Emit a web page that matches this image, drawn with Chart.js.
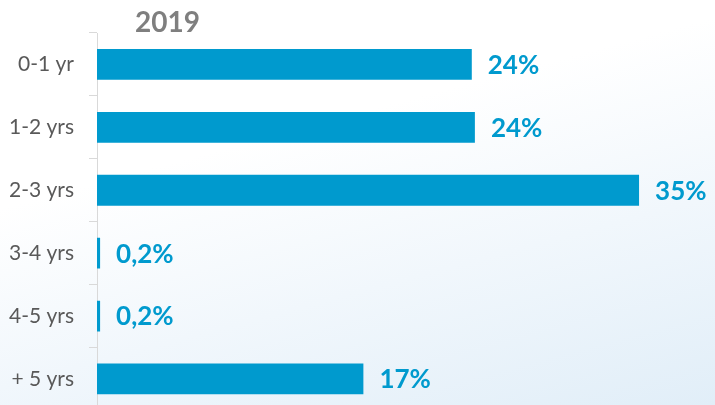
<!DOCTYPE html>
<html>
<head>
<meta charset="utf-8">
<script src="https://cdn.jsdelivr.net/npm/chart.js@4"></script>
<style>
  html, body {
    margin: 0;
    padding: 0;
    width: 715px;
    height: 405px;
    overflow: hidden;
    background: linear-gradient(165deg, #ffffff 35%, #f1f7fc 65%, #e1eef8 100%);
  }
  #wrap {
    position: relative;
    width: 715px;
    height: 438px;
  }
  #chart {
    display: block;
  }
  #title {
    position: absolute;
    left: 135px;
    top: 7px;
    font: bold 28px Lato, sans-serif;
    line-height: 28px;
    color: #7f7f7f;
  }
</style>
</head>
<body>
<div id="wrap">
  <canvas id="chart" width="715" height="438"></canvas>
  <div id="title">2019</div>
</div>
<script>
// Share of employees by seniority, 2019
const categories = ['0-1 yr', '1-2 yrs', '2-3 yrs', '3-4 yrs', '4-5 yrs', '+ 5 yrs'];
const shares = [24.2, 24.4, 35, 0.2, 0.2, 17.2];

const barColor = '#009ace';

function formatShare(v) {
  if (v < 1) return v.toFixed(1).replace('.', ',') + '%';
  return Math.round(v) + '%';
}

// Draw the value labels to the right of each bar
const valueLabels = {
  id: 'valueLabels',
  afterDatasetsDraw(chart) {
    const ctx = chart.ctx;
    const meta = chart.getDatasetMeta(0);
    ctx.save();
    ctx.font = 'bold 26px Lato, sans-serif';
    ctx.fillStyle = barColor;
    ctx.textAlign = 'left';
    ctx.textBaseline = 'middle';
    meta.data.forEach((bar, i) => {
      ctx.fillText(formatShare(shares[i]), bar.x + 16, bar.y + 1);
    });
    ctx.restore();
  }
};

// the canvas is taller than the window: the axis runs past the bottom edge
new Chart(document.getElementById('chart'), {
  type: 'bar',
  data: {
    labels: categories,
    datasets: [{
      data: shares,
      backgroundColor: barColor,
      borderWidth: 0,
      barPercentage: 0.49,
      categoryPercentage: 1
    }]
  },
  options: {
    indexAxis: 'y',
    responsive: false,
    animation: false,
    layout: {
      padding: { top: 33, right: 14, bottom: 0, left: 0 }
    },
    scales: {
      x: {
        display: false,
        min: 0,
        max: 39
      },
      y: {
        afterFit: (scale) => { scale.width = 97; },
        grid: {
          drawOnChartArea: false,
          drawTicks: true,
          tickLength: 8,
          color: '#d9d9d9',
          tickColor: '#d9d9d9'
        },
        border: {
          color: '#d9d9d9'
        },
        ticks: {
          padding: 15,
          color: '#595959',
          font: { family: 'Lato', size: 21 }
        }
      }
    },
    plugins: {
      legend: { display: false },
      tooltip: { enabled: false }
    }
  },
  plugins: [valueLabels]
});
</script>
</body>
</html>
